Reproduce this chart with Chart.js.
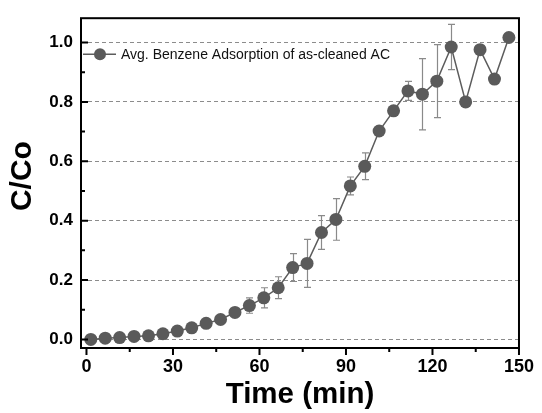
<!DOCTYPE html>
<html>
<head>
<meta charset="utf-8">
<script src="https://cdn.jsdelivr.net/npm/chart.js@4.4.1/dist/chart.umd.min.js"></script>
<style>
  html, body { margin: 0; padding: 0; background: #fff; }
  #wrap { width: 542px; height: 413px; }
</style>
</head>
<body>
<div id="wrap"><canvas id="c" width="542" height="413"></canvas></div>
<script>
// Sampling times (min) and normalised benzene concentration C/Co
const timeMin = [1.5, 6.5, 11.5, 16.5, 21.5, 26.5, 31.5, 36.5, 41.5, 46.5,
                 51.5, 56.5, 61.5, 66.5, 71.5, 76.5, 81.5, 86.5, 91.5, 96.5,
                 101.5, 106.5, 111.5, 116.5, 121.5, 126.5, 131.5, 136.5, 141.5, 146.5];
const ratio = [0.000, 0.004, 0.006, 0.010, 0.012, 0.019, 0.028, 0.039, 0.054, 0.067,
               0.091, 0.114, 0.140, 0.174, 0.242, 0.256, 0.360, 0.404, 0.517, 0.583,
               0.702, 0.770, 0.837, 0.826, 0.870, 0.985, 0.800, 0.976, 0.877, 1.017];
// Standard deviation of each averaged point
const ratioErr = [0.004, 0.004, 0.004, 0.004, 0.004, 0.005, 0.005, 0.006, 0.006, 0.008,
                  0.012, 0.026, 0.034, 0.037, 0.047, 0.081, 0.057, 0.070, 0.030, 0.045,
                  0.000, 0.000, 0.032, 0.120, 0.123, 0.076, 0.000, 0.000, 0.000, 0.000];

const xTicks = [0, 30, 60, 90, 120, 150];
const xMinorTicks = [15, 45, 75, 105, 135];
const yTicks = [0.0, 0.2, 0.4, 0.6, 0.8, 1.0];
const yMinorTicks = [0.1, 0.3, 0.5, 0.7, 0.9];
const seriesLabel = 'Avg. Benzene Adsorption of as-cleaned AC';
const xTitle = 'Time (min)';
const yTitle = 'C/Co';

const markerColor = '#5a5a5a';
const lineColor = '#5c5c5c';
const errColor = '#8a8a8a';
const sansFamily = '"Liberation Sans", Arial, Helvetica, sans-serif';

// Vertical error bars with caps, drawn under the markers
const errorBars = {
  id: 'errorBars',
  beforeDatasetsDraw(chart) {
    const { ctx, scales: { x, y } } = chart;
    ctx.save();
    ctx.strokeStyle = errColor;
    ctx.lineWidth = 1.2;
    const cap = 3.5;
    timeMin.forEach((t, i) => {
      const e = ratioErr[i];
      if (!e) return;
      const px = Math.round(x.getPixelForValue(t)) + 0.5;
      const yt = y.getPixelForValue(ratio[i] + e);
      const yb = y.getPixelForValue(ratio[i] - e);
      ctx.beginPath();
      ctx.moveTo(px, yt); ctx.lineTo(px, yb);
      ctx.moveTo(px - cap, yt); ctx.lineTo(px + cap, yt);
      ctx.moveTo(px - cap, yb); ctx.lineTo(px + cap, yb);
      ctx.stroke();
    });
    ctx.restore();
  }
};

// Closed frame, outward x ticks, inward y ticks and the rotated y title
const frameAndTicks = {
  id: 'frameAndTicks',
  afterDraw(chart) {
    const { ctx, chartArea: a, scales: { x, y } } = chart;
    ctx.save();
    ctx.strokeStyle = '#000';
    ctx.lineWidth = 2;
    ctx.strokeRect(a.left, a.top, a.right - a.left, a.bottom - a.top);
    ctx.beginPath();
    xTicks.forEach(v => { const p = x.getPixelForValue(v); ctx.moveTo(p, a.bottom); ctx.lineTo(p, a.bottom + 7); });
    xMinorTicks.forEach(v => { const p = x.getPixelForValue(v); ctx.moveTo(p, a.bottom); ctx.lineTo(p, a.bottom + 4); });
    yTicks.forEach(v => { const p = y.getPixelForValue(v); ctx.moveTo(a.left, p); ctx.lineTo(a.left + 7, p); });
    yMinorTicks.forEach(v => { const p = y.getPixelForValue(v); ctx.moveTo(a.left, p); ctx.lineTo(a.left + 4, p); });
    ctx.stroke();

    ctx.fillStyle = '#000';
    ctx.font = 'bold 30px ' + sansFamily;
    ctx.textAlign = 'center';
    ctx.textBaseline = 'middle';
    ctx.translate(23, y.getPixelForValue(0.55));
    ctx.rotate(-Math.PI / 2);
    ctx.fillText(yTitle, 0, 0);
    ctx.restore();
  }
};

// Legend entry: line + circle symbol followed by the series name
const legendBox = {
  id: 'legendBox',
  afterDraw(chart) {
    const { ctx, chartArea: a } = chart;
    const cy = a.top + 36;
    const x0 = a.left + 2;
    ctx.save();
    ctx.strokeStyle = lineColor;
    ctx.lineWidth = 1.5;
    ctx.beginPath();
    ctx.moveTo(x0, cy); ctx.lineTo(x0 + 33, cy);
    ctx.stroke();
    ctx.fillStyle = markerColor;
    ctx.beginPath();
    ctx.arc(x0 + 17, cy, 6, 0, Math.PI * 2);
    ctx.fill();
    ctx.fillStyle = '#111';
    ctx.font = '14px ' + sansFamily;
    ctx.textBaseline = 'middle';
    ctx.fillText(seriesLabel, x0 + 38, cy + 1);
    ctx.restore();
  }
};

new Chart(document.getElementById('c'), {
  type: 'line',
  data: {
    datasets: [{
      label: seriesLabel,
      data: timeMin.map((t, i) => ({ x: t, y: ratio[i] })),
      borderColor: lineColor,
      borderWidth: 1.5,
      pointRadius: 6.5,
      pointHoverRadius: 6.5,
      pointBackgroundColor: markerColor,
      pointBorderColor: markerColor,
      pointBorderWidth: 0,
      tension: 0,
      clip: false
    }]
  },
  options: {
    responsive: false,
    animation: false,
    devicePixelRatio: 1,
    layout: { padding: { top: 18, right: 17, left: 0, bottom: 0 } },
    plugins: {
      legend: { display: false },
      tooltip: { enabled: false }
    },
    scales: {
      x: {
        type: 'linear',
        min: -1.9,
        max: 150,
        afterBuildTicks: s => { s.ticks = xTicks.map(v => ({ value: v })); },
        afterFit: s => { s.height = 65; },
        ticks: {
          color: '#000',
          font: { family: sansFamily, size: 18, weight: 'bold' },
          padding: 8,
          maxRotation: 0,
          autoSkip: false
        },
        grid: { display: false, drawTicks: false },
        border: { display: false },
        title: {
          display: true,
          text: xTitle,
          color: '#000',
          font: { family: sansFamily, size: 29.5, weight: 'bold' },
          padding: { top: 0, bottom: 0 }
        }
      },
      y: {
        min: -0.029,
        max: 1.082,
        afterBuildTicks: s => { s.ticks = yTicks.map(v => ({ value: v })); },
        afterFit: s => { s.width = 81; },
        ticks: {
          color: '#000',
          font: { family: sansFamily, size: 17, weight: 'bold' },
          padding: 8,
          callback: v => Number(v).toFixed(1)
        },
        grid: { color: '#8c8c8c', lineWidth: 1, drawTicks: false },
        border: { display: false, dash: [4, 3] },
        title: { display: false }
      }
    }
  },
  plugins: [errorBars, frameAndTicks, legendBox]
});
</script>
</body>
</html>
